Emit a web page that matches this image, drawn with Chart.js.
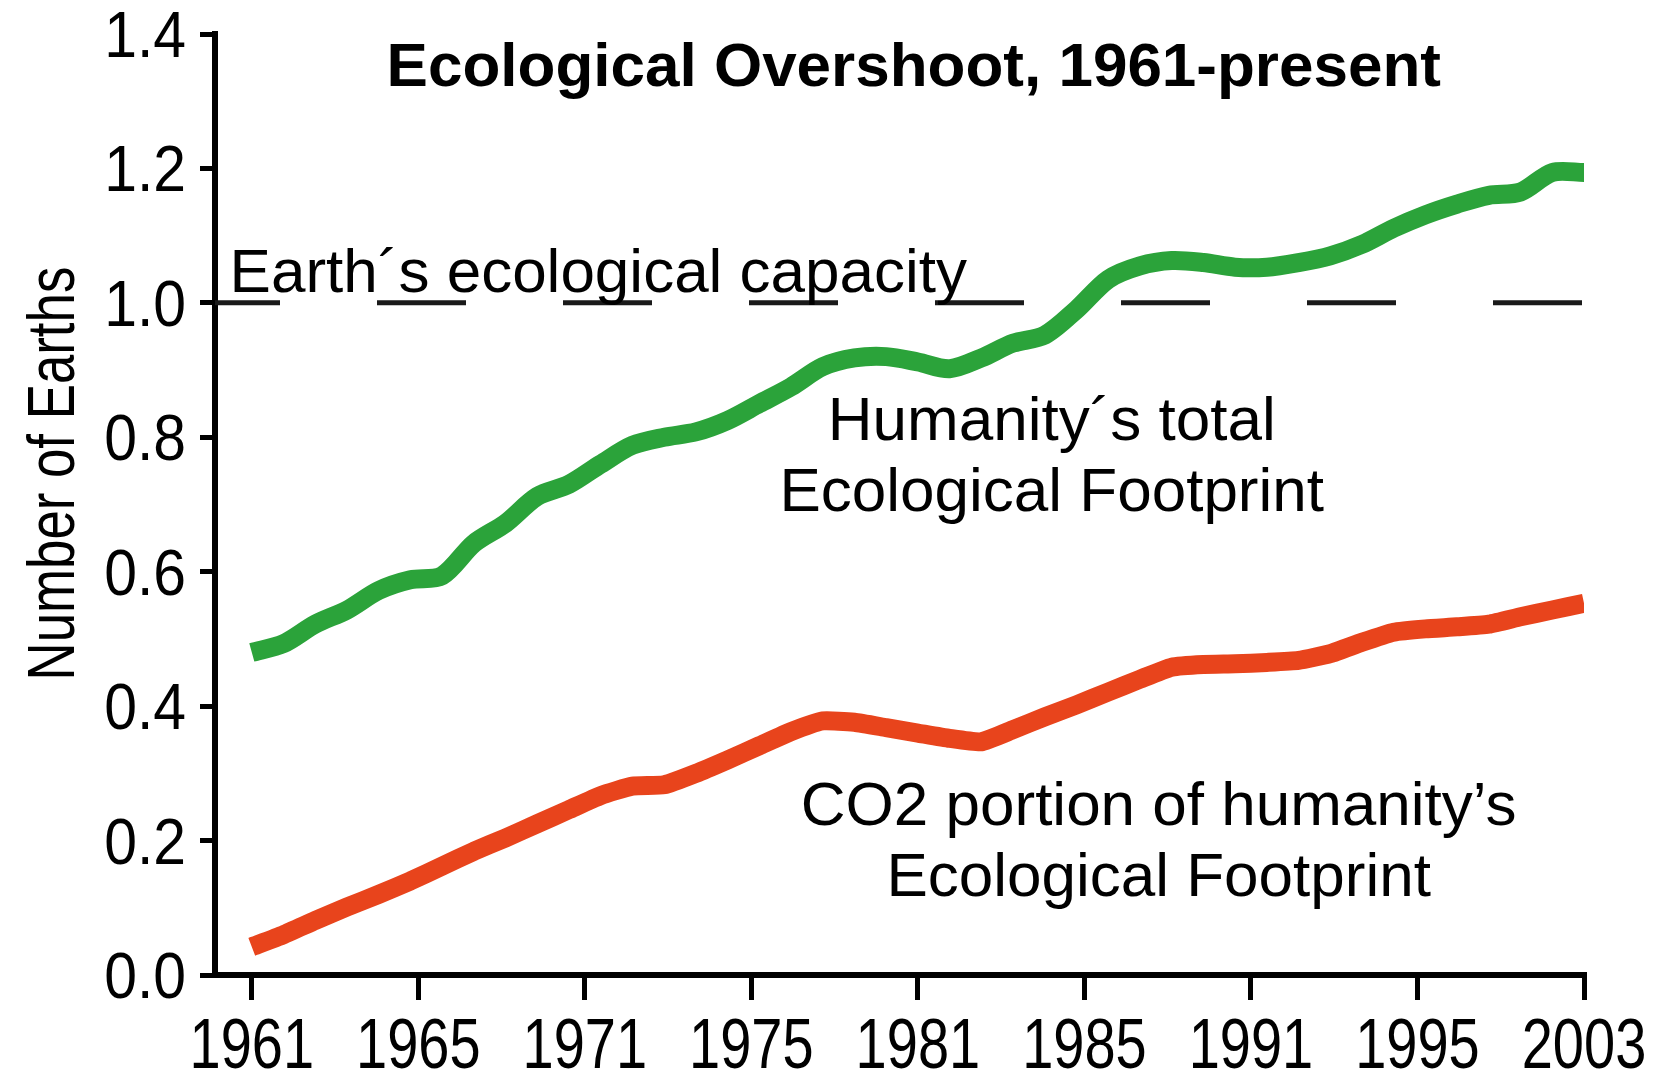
<!DOCTYPE html>
<html>
<head>
<meta charset="utf-8">
<title>Ecological Overshoot, 1961-present</title>
<script src="https://cdn.jsdelivr.net/npm/chart.js@4.4.1/dist/chart.umd.min.js"></script>
<style>
  html, body { margin: 0; padding: 0; background: #fff; }
  #wrap { width: 1666px; height: 1069px; }
</style>
</head>
<body>
<div id="wrap"><canvas id="chart" width="1666" height="1069"></canvas></div>
<script>
const years = [1961, 1962, 1963, 1964, 1965, 1966, 1967, 1968, 1969, 1970,
  1971, 1972, 1973, 1974, 1975, 1976, 1977, 1978, 1979, 1980,
  1981, 1982, 1983, 1984, 1985, 1986, 1987, 1988, 1989, 1990,
  1991, 1992, 1993, 1994, 1995, 1996, 1997, 1998, 1999, 2000,
  2001, 2002, 2003];

// number of Earths
const totalFootprint = [0.480, 0.493, 0.522, 0.543, 0.572, 0.588, 0.594, 0.642, 0.672, 0.712,
  0.730, 0.760, 0.788, 0.800, 0.808, 0.825, 0.850, 0.875, 0.905, 0.918,
  0.920, 0.912, 0.902, 0.918, 0.940, 0.952, 0.990, 1.035, 1.055, 1.063,
  1.060, 1.053, 1.053, 1.060, 1.070, 1.087, 1.111, 1.131, 1.147, 1.160,
  1.165, 1.194, 1.194];

const co2Footprint = [0.042, 0.060, 0.081, 0.101, 0.120, 0.140, 0.162, 0.184, 0.204, 0.225,
  0.246, 0.267, 0.281, 0.283, 0.300, 0.320, 0.341, 0.362, 0.378, 0.376,
  0.368, 0.360, 0.352, 0.347, 0.365, 0.384, 0.402, 0.421, 0.440, 0.458,
  0.462, 0.463, 0.465, 0.468, 0.478, 0.495, 0.510, 0.515, 0.518, 0.522,
  0.533, 0.543, 0.553];

const capacity = 1.0;

const xTickLabels = ["1961", "1965", "1971", "1975", "1981", "1985", "1991", "1995", "2003"];

const textLabels = [
  { text: "Ecological Overshoot, 1961-present", x: 1981.87, y: 1.3226, bold: true, align: "center" },
  { text: "Earth´s ecological capacity", x: 1960.3, y: 1.0165, align: "left" },
  { text: "Humanity´s total", x: 1986.22, y: 0.7965, align: "center" },
  { text: "Ecological Footprint", x: 1986.22, y: 0.6896, align: "center" },
  { text: "CO2 portion of humanity’s", x: 1989.59, y: 0.2229, align: "center" },
  { text: "Ecological Footprint", x: 1989.59, y: 0.1174, align: "center" }
];

const xMin = 1959.84;
const sans = '"Liberation Sans", Arial, sans-serif';

const toPoints = values => years.map((yr, i) => ({ x: yr, y: values[i] }));

// draws text squeezed sideways, the labels in the picture are narrow
function squeezed(ctx, text, x, y, sx, align) {
  ctx.save();
  ctx.translate(x, y);
  ctx.scale(sx, 1);
  ctx.textAlign = align;
  ctx.fillText(text, 0, 0);
  ctx.restore();
}

const textPlugin = {
  id: "chartText",
  afterDraw(chart) {
    const { ctx, chartArea, scales: { x, y } } = chart;
    ctx.save();
    ctx.fillStyle = "#000";
    ctx.textBaseline = "alphabetic";

    textLabels.forEach(l => {
      ctx.font = (l.bold ? "bold 62px " : "62px ") + sans;
      ctx.textAlign = l.align;
      ctx.fillText(l.text, x.getPixelForValue(l.x), y.getPixelForValue(l.y));
    });

    // tick labels
    ctx.font = "70px " + sans;
    x.ticks.forEach((t, i) => {
      squeezed(ctx, xTickLabels[i], x.getPixelForValue(t.value), chartArea.bottom + 93, 0.8, "center");
    });
    ctx.font = "64px " + sans;
    y.ticks.forEach(t => {
      squeezed(ctx, t.value.toFixed(1), chartArea.left - 29, y.getPixelForValue(t.value) + 23, 0.92, "right");
    });

    // y axis title, rotated
    ctx.translate(chartArea.left - 141, y.getPixelForValue(0.746));
    ctx.rotate(-Math.PI / 2);
    ctx.font = "66px " + sans;
    squeezed(ctx, "Number of Earths", 0, 0, 0.8, "center");
    ctx.restore();
  }
};

new Chart(document.getElementById("chart"), {
  type: "line",
  data: {
    datasets: [
      {
        label: "Humanity´s total Ecological Footprint",
        data: toPoints(totalFootprint),
        borderColor: "#2ba33a",
        borderWidth: 19,
        borderJoinStyle: "round",
        pointRadius: 0,
        tension: 0.3,
        order: 1
      },
      {
        label: "CO2 portion of humanity’s Ecological Footprint",
        data: toPoints(co2Footprint),
        borderColor: "#e8441c",
        borderWidth: 19,
        borderJoinStyle: "round",
        pointRadius: 0,
        tension: 0.15,
        order: 2
      },
      {
        label: "Earth´s ecological capacity",
        data: [{ x: xMin, y: capacity }, { x: years[years.length - 1], y: capacity }],
        borderColor: "#1a1a1a",
        borderWidth: 5,
        borderDash: [89, 97],
        borderDashOffset: 24,
        pointRadius: 0,
        order: 3
      }
    ]
  },
  options: {
    responsive: false,
    animation: false,
    layout: { padding: { left: 0, right: 82, top: 34, bottom: 0 } },
    plugins: {
      legend: { display: false },
      tooltip: { enabled: false }
    },
    scales: {
      x: {
        type: "linear",
        min: xMin,
        max: years[years.length - 1],
        border: { display: true, color: "#000", width: 6 },
        grid: { drawOnChartArea: false, drawTicks: true, tickLength: 25, lineWidth: 5, color: "#000" },
        afterBuildTicks: scale => {
          const first = years[0], last = years[years.length - 1];
          const step = (last - first) / (xTickLabels.length - 1);
          scale.ticks = xTickLabels.map((_, i) => ({ value: first + i * step }));
        },
        afterFit: scale => { scale.height = 94; },
        ticks: { display: false, autoSkip: false, maxRotation: 0 }
      },
      y: {
        min: 0,
        max: 1.4,
        border: { display: true, color: "#000", width: 6 },
        grid: { drawOnChartArea: false, drawTicks: true, tickLength: 15, lineWidth: 5, color: "#000" },
        afterFit: scale => { scale.width = 215; },
        ticks: { display: false, stepSize: 0.2 }
      }
    }
  },
  plugins: [textPlugin]
});
</script>
</body>
</html>
